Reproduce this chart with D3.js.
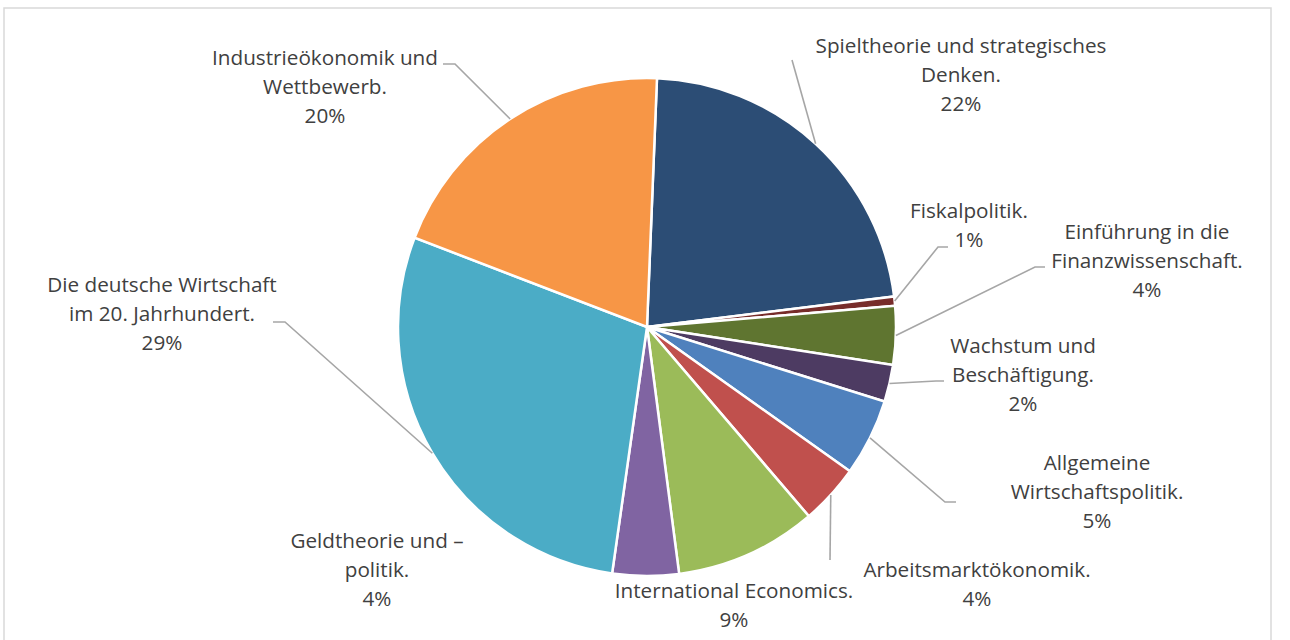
<!DOCTYPE html>
<html>
<head>
<meta charset="utf-8">
<script src="https://cdn.jsdelivr.net/npm/d3@7"></script>
<style>
  html, body { margin: 0; padding: 0; background: #ffffff; }
  svg { display: block; }
  text { font-family: "Open Sans", "Noto Sans", sans-serif; fill: #404040; }
</style>
</head>
<body>
<svg id="chart" width="1290" height="640"></svg>
<script>
// Course areas, their shares (percent) and slice colours, clockwise from the top
const categories = [
  "Spieltheorie und strategisches Denken.",
  "Fiskalpolitik.",
  "Einführung in die Finanzwissenschaft.",
  "Wachstum und Beschäftigung.",
  "Allgemeine Wirtschaftspolitik.",
  "Arbeitsmarktökonomik.",
  "International Economics.",
  "Geldtheorie und –politik.",
  "Die deutsche Wirtschaft im 20. Jahrhundert.",
  "Industrieökonomik und Wettbewerb."
];
const shares = [22.4, 0.6, 3.8, 2.4, 5.0, 3.9, 9.2, 4.3, 28.6, 19.8];
const colors = ["#2C4D75", "#772C2A", "#5F7530", "#4D3B62", "#4F81BD",
                "#C0504D", "#9BBB59", "#8064A2", "#4BACC6", "#F79646"];

// Wrapped label lines (category text only; the percentage line is added from the data)
const labelLines = [
  ["Spieltheorie und strategisches", "Denken."],
  ["Fiskalpolitik."],
  ["Einführung in die", "Finanzwissenschaft."],
  ["Wachstum und", "Beschäftigung."],
  ["Allgemeine", "Wirtschaftspolitik."],
  ["Arbeitsmarktökonomik."],
  ["International Economics."],
  ["Geldtheorie und –", "politik."],
  ["Die deutsche Wirtschaft", "im 20. Jahrhundert."],
  ["Industrieökonomik und", "Wettbewerb."]
];

// Label placement: centre x, first baseline, and leader elbow / end points (null = no leader)
const labelLayout = [
  { x: 961,  y: 53,  elbow: [792, 60],   end: [792, 60] },
  { x: 969,  y: 218, elbow: [938, 247],  end: [948, 247] },
  { x: 1147, y: 239, elbow: [1035, 267], end: [1045, 267] },
  { x: 1023, y: 353, elbow: [936, 381],  end: [944, 381] },
  { x: 1097, y: 470, elbow: [945, 502],  end: [956, 502] },
  { x: 977,  y: 577, elbow: [830, 560],  end: [830, 560] },
  { x: 734,  y: 598, elbow: null,        end: null },
  { x: 377,  y: 548, elbow: null,        end: null },
  { x: 162,  y: 292, elbow: [285, 322],  end: [273, 322] },
  { x: 325,  y: 65,  elbow: [455, 64],   end: [443, 64] }
];

const width = 1290, height = 640;
const cx = 647, cy = 327, radius = 249;
const lineStep = 29;
const startDeg = 2.3;

const svg = d3.select("#chart");

// chart frame
svg.append("rect")
  .attr("x", 4).attr("y", 8)
  .attr("width", 1267).attr("height", 650)
  .attr("fill", "#ffffff")
  .attr("stroke", "#D9D9D9")
  .attr("stroke-width", 1.5);

const data = categories.map((c, i) => ({ name: c, value: shares[i], color: colors[i], lines: labelLines[i], layout: labelLayout[i] }));
const total = d3.sum(shares);

const pie = d3.pie()
  .value(d => d.value)
  .sort(null)
  .startAngle(startDeg * Math.PI / 180)
  .endAngle(startDeg * Math.PI / 180 + 2 * Math.PI);

const arc = d3.arc().innerRadius(0).outerRadius(radius);
const arcs = pie(data);

const g = svg.append("g").attr("transform", `translate(${cx},${cy})`);

g.selectAll("path.slice")
  .data(arcs)
  .join("path")
  .attr("class", "slice")
  .attr("d", arc)
  .attr("fill", d => d.data.color)
  .attr("stroke", "#ffffff")
  .attr("stroke-width", 2.5)
  .attr("stroke-linejoin", "miter");

// leader lines: from the slice edge at its mid-angle to the label elbow, then to the label
const pct = d3.format(".0%");
arcs.forEach(a => {
  const L = a.data.layout;
  if (!L.elbow) return;
  const mid = (a.startAngle + a.endAngle) / 2;
  const px = cx + radius * Math.sin(mid);
  const py = cy - radius * Math.cos(mid);
  svg.append("path")
    .attr("d", d3.line()([[px, py], L.elbow, L.end]))
    .attr("fill", "none")
    .attr("stroke", "#A6A6A6")
    .attr("stroke-width", 1.6);
});

// labels
const labels = svg.append("g");
arcs.forEach(a => {
  const L = a.data.layout;
  const t = labels.append("text")
    .attr("text-anchor", "middle")
    .attr("x", L.x).attr("y", L.y);
  const lines = a.data.lines.concat([pct(a.data.value / total)]);
  lines.forEach((s, k) => {
    t.append("tspan").attr("x", L.x).attr("y", L.y + k * lineStep).text(s);
  });
});

// size the label font so the longest reference line spans its measured width
let fontSize = 20;
labels.selectAll("text").style("font-size", fontSize + "px");
const probe = labels.selectAll("tspan").filter(function () { return this.textContent === "Industrieökonomik und"; }).node();
if (probe) {
  const w = probe.getComputedTextLength();
  fontSize = fontSize * 226 / w;
  labels.selectAll("text").style("font-size", fontSize.toFixed(2) + "px");
}
</script>
</body>
</html>
